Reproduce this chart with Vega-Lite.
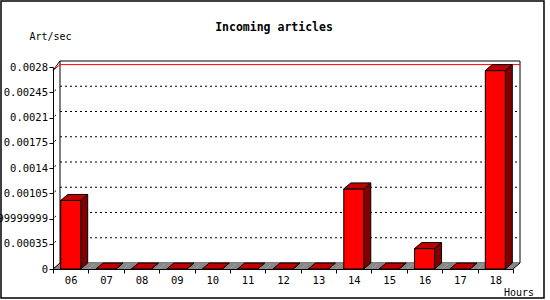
{
  "$schema": "https://vega.github.io/schema/vega-lite/v6.json",
  "width": 543,
  "height": 297,
  "autosize": {"type": "none"},
  "padding": {"left": 1, "top": 1, "right": 6, "bottom": 2},
  "background": "white",
  "config": {
    "view": {"stroke": "black", "strokeWidth": 1.5, "fill": "white"},
    "font": "DejaVu Sans Mono",
    "axis": {"grid": false}
  },
  "title": {
    "text": "Incoming articles",
    "frame": "group",
    "anchor": "middle",
    "offset": 0,
    "baseline": "middle",
    "dy": 38.4,
    "dx": 1.5,
    "font": "DejaVu Sans Mono",
    "fontSize": 11.5,
    "fontWeight": "bold",
    "color": "black"
  },
  "data": {
    "values": [
      {"hour": "06", "value": 0.00095},
      {"hour": "07", "value": 0},
      {"hour": "08", "value": 0},
      {"hour": "09", "value": 0},
      {"hour": "10", "value": 0},
      {"hour": "11", "value": 0},
      {"hour": "12", "value": 0},
      {"hour": "13", "value": 0},
      {"hour": "14", "value": 0.00111},
      {"hour": "15", "value": 0},
      {"hour": "16", "value": 0.000283},
      {"hour": "17", "value": 0},
      {"hour": "18", "value": 0.00275}
    ]
  },
  "layer": [
    {
      "data": {"values": [{}]},
      "mark": {"type": "rect", "fill": "white", "stroke": "black", "strokeWidth": 1, "xOffset": 7, "x2Offset": 7, "yOffset": -6, "y2Offset": -6},
      "encoding": {
        "x": {
          "datum": "06", "type": "nominal", "bandPosition": 0,
          "scale": {"type": "band", "domain": ["06","07","08","09","10","11","12","13","14","15","16","17","18"], "range": [52, 512], "paddingInner": 0, "paddingOuter": 0},
          "axis": {
            "orient": "bottom", "offset": -29, "zindex": 1,
            "tickBand": "extent", "tickSize": 4, "tickColor": "black", "domainColor": "black",
            "labelAngle": 0, "labelPadding": 2, "labelFont": "DejaVu Sans Mono", "labelFontSize": 10.5, "labelColor": "black",
            "title": "Hours", "titleAngle": 0, "titleX": 517.5, "titleY": 23.2, "titleAlign": "center", "titleBaseline": "middle",
            "titleFont": "DejaVu Sans Mono", "titleFontSize": 10, "titleFontWeight": "normal", "titleColor": "black",
            "grid": false
          }
        },
        "x2": {"datum": "18", "bandPosition": 1},
        "y": {
          "datum": 0, "type": "quantitative",
          "scale": {"type": "linear", "domain": [0, 0.0028], "range": [268, 66], "nice": false, "zero": true},
          "axis": {
            "orient": "left", "offset": -52, "zindex": 1,
            "values": [0, 0.00035, 0.0007, 0.00105, 0.0014, 0.00175, 0.0021, 0.00245, 0.0028],
            "tickCount": 20,
            "labelExpr": "abs(datum.value - 0.0007) < 1e-9 ? '0.000699999999' : format(datum.value, '~g')",
            "tickSize": 4, "tickColor": "black", "domainColor": "black",
            "labelPadding": 1.5, "labelFont": "DejaVu Sans Mono", "labelFontSize": 10.5, "labelColor": "black",
            "labelFlush": false, "labelOverlap": false, "labelBound": false,
            "title": "Art/sec", "titleAngle": 0, "titleX": -3, "titleY": 35.2, "titleAlign": "center", "titleBaseline": "middle",
            "titleFont": "DejaVu Sans Mono", "titleFontSize": 10, "titleFontWeight": "normal", "titleColor": "black",
            "grid": false
          }
        },
        "y2": {"datum": 0.0028}
      }
    },
    {
      "data": {"values": [{"v": 0.00035}, {"v": 0.0007}, {"v": 0.00105}, {"v": 0.0014}, {"v": 0.00175}, {"v": 0.0021}, {"v": 0.00245}]},
      "mark": {"type": "rule", "stroke": "black", "strokeWidth": 1, "strokeDash": [2, 3], "xOffset": 7, "x2Offset": 7, "yOffset": -6},
      "encoding": {
        "x": {"datum": "06", "bandPosition": 0},
        "x2": {"datum": "18", "bandPosition": 1},
        "y": {"field": "v", "type": "quantitative"}
      }
    },
    {
      "data": {"values": [{"v": 0.00035}, {"v": 0.0007}, {"v": 0.00105}, {"v": 0.0014}, {"v": 0.00175}, {"v": 0.0021}, {"v": 0.00245}]},
      "mark": {"type": "rule", "stroke": "black", "strokeWidth": 1, "strokeDash": [2, 20], "strokeDashOffset": -2, "x2Offset": 7, "y2Offset": -6},
      "encoding": {
        "x": {"datum": "06", "bandPosition": 0},
        "x2": {"datum": "06", "bandPosition": 0},
        "y": {"field": "v", "type": "quantitative"},
        "y2": {"field": "v"}
      }
    },
    {
      "transform": [{"aggregate": [{"op": "max", "field": "value", "as": "maxv"}]}],
      "mark": {"type": "rule", "stroke": "#FF0000", "strokeWidth": 1, "xOffset": 7, "x2Offset": 7, "yOffset": -6},
      "encoding": {
        "x": {"datum": "06", "bandPosition": 0},
        "x2": {"datum": "18", "bandPosition": 1},
        "y": {"field": "maxv", "type": "quantitative"}
      }
    },
    {
      "mark": {"type": "point", "shape": "M-17.692,0L-10.692,-6L24.692,-6L17.692,0Z", "size": 4, "filled": true, "fill": "#888888", "strokeWidth": 0, "opacity": 1},
      "encoding": {
        "x": {"field": "hour", "type": "nominal"},
        "y": {"datum": 0}
      }
    },
    {
      "data": {"values": [{}]},
      "mark": {"type": "rule", "stroke": "black", "strokeWidth": 1, "x2Offset": 7, "y2Offset": -6},
      "encoding": {
        "x": {"datum": "06", "bandPosition": 0},
        "x2": {"datum": "06", "bandPosition": 0},
        "y": {"datum": 0},
        "y2": {"datum": 0}
      }
    },
    {
      "data": {"values": [{}]},
      "mark": {"type": "rule", "stroke": "black", "strokeWidth": 1, "x2Offset": 7, "y2Offset": -6},
      "encoding": {
        "x": {"datum": "18", "bandPosition": 1},
        "x2": {"datum": "18", "bandPosition": 1},
        "y": {"datum": 0},
        "y2": {"datum": 0}
      }
    },
    {
      "transform": [{"aggregate": [{"op": "max", "field": "value", "as": "maxv"}]}],
      "mark": {"type": "rule", "stroke": "black", "strokeWidth": 1, "x2Offset": 7, "y2Offset": -6},
      "encoding": {
        "x": {"datum": "06", "bandPosition": 0},
        "x2": {"datum": "06", "bandPosition": 0},
        "y": {"field": "maxv", "type": "quantitative"},
        "y2": {"datum": 0.0028}
      }
    },
    {
      "transform": [{"aggregate": [{"op": "max", "field": "value", "as": "maxv"}]}],
      "mark": {"type": "rule", "stroke": "#FF0000", "strokeWidth": 1, "x2Offset": 7, "y2Offset": -6},
      "encoding": {
        "x": {"datum": "06", "bandPosition": 0},
        "x2": {"datum": "06", "bandPosition": 0},
        "y": {"field": "maxv", "type": "quantitative"},
        "y2": {"field": "maxv"}
      }
    },
    {
      "mark": {"type": "bar", "width": 7, "xOffset": 13.5, "yOffset": -6, "y2Offset": -6, "fill": "#800000", "strokeWidth": 0},
      "encoding": {
        "x": {"field": "hour", "type": "nominal"},
        "y": {"field": "value", "type": "quantitative"},
        "y2": {"datum": 0}
      }
    },
    {
      "mark": {"type": "rule", "stroke": "black", "strokeWidth": 1, "xOffset": 17, "yOffset": -6, "y2Offset": -6},
      "encoding": {
        "x": {"field": "hour", "type": "nominal"},
        "y": {"field": "value", "type": "quantitative"},
        "y2": {"datum": 0}
      }
    },
    {
      "mark": {"type": "point", "shape": "M10,-6L10,0L17,-6", "size": 4, "filled": true, "fill": "#800000", "stroke": "black", "strokeWidth": 1, "opacity": 1},
      "encoding": {
        "x": {"field": "hour", "type": "nominal"},
        "y": {"datum": 0}
      }
    },
    {
      "mark": {"type": "bar", "width": 20, "fill": "#FF0000", "stroke": "black", "strokeWidth": 1},
      "encoding": {
        "x": {"field": "hour", "type": "nominal"},
        "y": {"field": "value", "type": "quantitative"},
        "y2": {"datum": 0}
      }
    },
    {
      "mark": {"type": "point", "shape": "M-10,0L-3,-6L17,-6L10,0Z", "size": 4, "filled": true, "fill": "#C00000", "stroke": "black", "strokeWidth": 1, "opacity": 1},
      "encoding": {
        "x": {"field": "hour", "type": "nominal"},
        "y": {"field": "value", "type": "quantitative"}
      }
    }
  ]
}
